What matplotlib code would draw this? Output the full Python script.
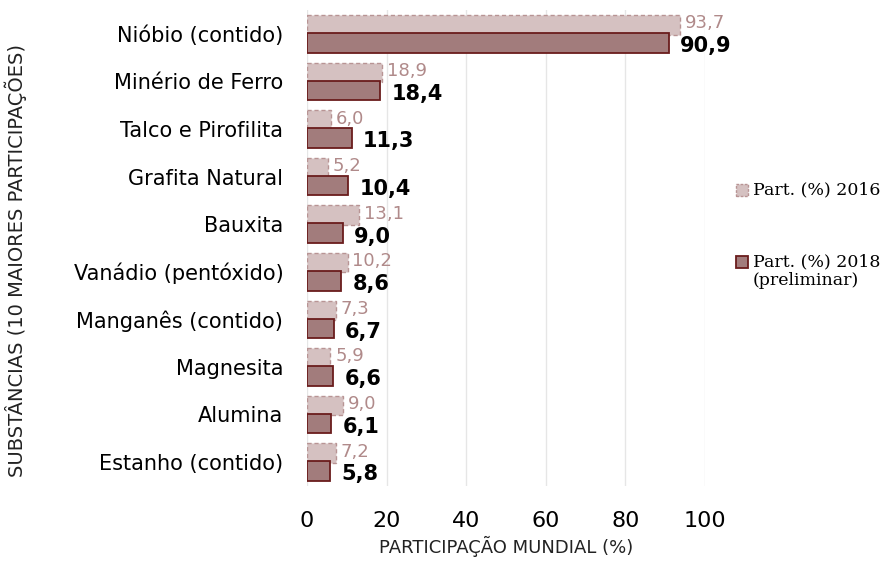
import numpy as np
import matplotlib.pyplot as plt
from matplotlib.patches import Rectangle

substancias = ["Nióbio (contido)", "Minério de Ferro", "Talco e Pirofilita", "Grafita Natural",
               "Bauxita", "Vanádio (pentóxido)", "Manganês (contido)", "Magnesita",
               "Alumina", "Estanho (contido)"]
part_2016 = [93.7, 18.9, 6.0, 5.2, 13.1, 10.2, 7.3, 5.9, 9.0, 7.2]
part_2018 = [90.9, 18.4, 11.3, 10.4, 9.0, 8.6, 6.7, 6.6, 6.1, 5.8]
xticks = [0, 20, 40, 60, 80, 100]
legenda = ["Part. (%) 2016", "Part. (%) 2018\n(preliminar)"]

SANS = "DejaVu Sans"
SERIF = "DejaVu Serif"

fig = plt.figure(figsize=(8.96, 5.61), dpi=100)
ax = fig.add_axes([0.3426, 0.134, 0.444, 0.848])

y = np.arange(len(substancias))
h = 0.41
c16_face, c16_edge = "#d5c1c1", "#b89494"
c18_face, c18_edge = "#a27c7c", "#6a1c1c"

ax.barh(y - 0.19, part_2016, height=h, color=c16_face, edgecolor=c16_edge,
        linestyle=(0, (3, 2)), linewidth=1.0, zorder=2)
ax.barh(y + 0.19, part_2018, height=h, color=c18_face, edgecolor=c18_edge,
        linewidth=1.3, zorder=3)

for yi, v16, v18 in zip(y, part_2016, part_2018):
    ax.text(v16 + 1.2, yi - 0.22, f"{v16:.1f}".replace(".", ","), color="#b08a8a",
            fontsize=13, family=SANS, va="center", ha="left", clip_on=False)
    ax.text(v18 + 2.8, yi + 0.26, f"{v18:.1f}".replace(".", ","), color="black",
            fontsize=15, fontweight="bold", family=SANS, va="center", ha="left", clip_on=False)

ax.set_ylim(len(substancias) - 0.5, -0.5)
ax.set_xlim(0, 100)
ax.set_xticks(xticks)
ax.set_xticklabels([str(t) for t in xticks], fontsize=16, family=SANS)
ax.set_yticks(y)
ax.set_yticklabels(substancias, fontsize=15, family=SANS)
ax.tick_params(length=0)
ax.tick_params(axis="y", pad=17)
ax.tick_params(axis="x", pad=18)
ax.grid(axis="x", color="#e6e6e6", linewidth=1, zorder=0)
for s in ax.spines.values():
    s.set_visible(False)

ax.set_xlabel("PARTICIPAÇÃO MUNDIAL (%)", fontsize=13, family=SANS, color="#222222", labelpad=4)
fig.text(0.018, 0.535, "SUBSTÂNCIAS (10 MAIORES PARTICIPAÇÕES)", rotation=90, fontsize=14,
         family=SANS, color="#222222", va="center", ha="center")

# legenda desenhada à mão para alinhar o quadrado à primeira linha
W, H = 896, 561
leg_y = [190, 262]
leg_style = [dict(facecolor=c16_face, edgecolor=c16_edge, linestyle=(0, (2, 1)), linewidth=1.0),
             dict(facecolor=c18_face, edgecolor=c18_edge, linewidth=1.3)]
for ly, lab, st in zip(leg_y, legenda, leg_style):
    fig.add_artist(Rectangle((736 / W, 1 - (ly + 6) / H), 12 / W, 12 / H,
                             transform=fig.transFigure, **st))
    fig.text(753 / W, 1 - (ly - 9) / H, lab, family=SERIF, fontsize=12.5, va="top", ha="left",
             linespacing=1.15)

fig.savefig("out.png", dpi=100)
